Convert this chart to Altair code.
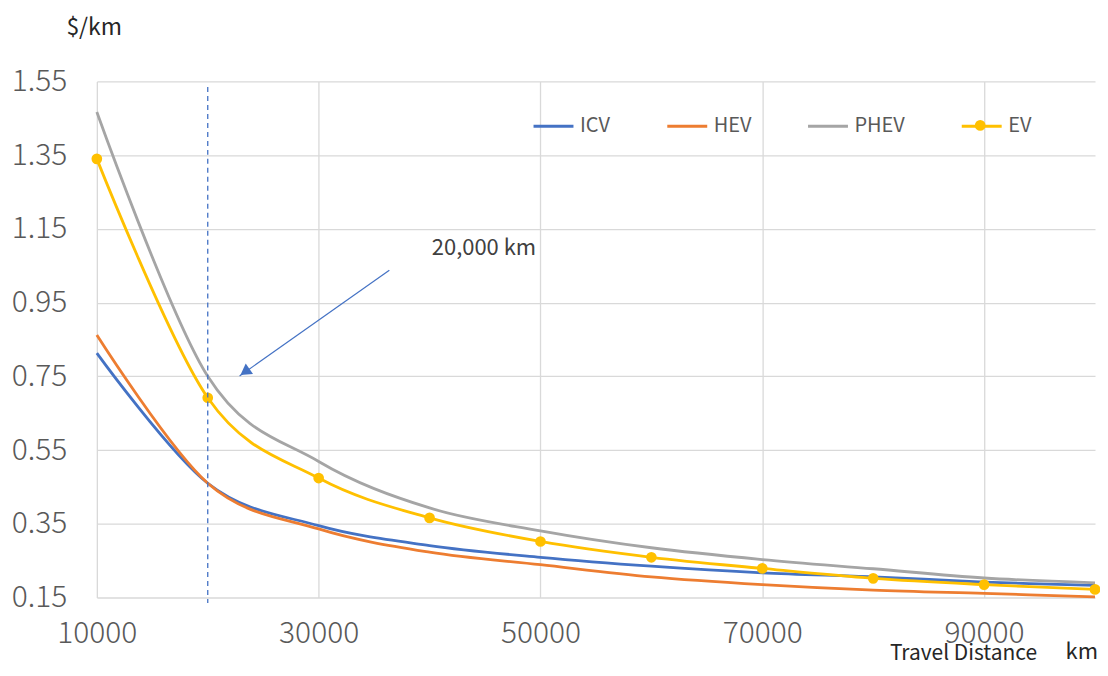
import altair as alt
import pandas as pd

distance = [10000, 20000, 30000, 40000, 50000, 60000, 70000, 80000, 90000, 100000]
icv = [0.813, 0.460, 0.345, 0.291, 0.259, 0.235, 0.217, 0.206, 0.192, 0.183]
hev = [0.862, 0.460, 0.336, 0.273, 0.239, 0.206, 0.185, 0.170, 0.161, 0.152]
phev = [1.467, 0.750, 0.519, 0.393, 0.331, 0.285, 0.253, 0.228, 0.203, 0.190]
ev = [1.340, 0.692, 0.474, 0.366, 0.302, 0.259, 0.229, 0.202, 0.185, 0.172]

series_names = ["ICV", "HEV", "PHEV", "EV"]
series_colors = ["#4472C4", "#ED7D31", "#A5A5A5", "#FFC000"]
y_ticks = [0.15, 0.35, 0.55, 0.75, 0.95, 1.15, 1.35, 1.55]
x_ticks = [10000, 30000, 50000, 70000, 90000]

marker_x = [20000]
arrow_start = [36373, 1.038]
arrow_end = [22871, 0.751]
arrow_head = [23350, 0.762]
note_pos = [40200, 1.098]
note_text = "20,000 km"

FONT = "Noto Sans CJK JP"

rows = []
for name, vals in zip(series_names, [icv, hev, phev, ev]):
    for d, v in zip(distance, vals):
        rows.append({"distance": d, "cost": v, "series": name})
df = pd.DataFrame(rows)
ev_df = df[df.series == "EV"]

xscale = alt.Scale(domain=[10000, 100000], nice=False, zero=False)
yscale = alt.Scale(domain=[0.15, 1.55], nice=False, zero=False)

legend = alt.Legend(
    orient="none", legendX=436, legendY=23, direction="horizontal", title=None,
    symbolType="stroke", symbolSize=1600, symbolStrokeWidth=3,
    labelFont=FONT, labelFontSize=20, labelColor="#595959", labelOffset=5,
    columnPadding=50,
)

lines = alt.Chart(df).mark_line(strokeWidth=2.8, interpolate="cardinal").encode(
    x=alt.X("distance:Q", scale=xscale, axis=alt.Axis(
        values=x_ticks, title="Travel Distance", titleAngle=0, titleX=794, titleY=62,
        titleAlign="left", titleBaseline="alphabetic", titleFont=FONT, titleFontSize=21,
        titleFontWeight="normal", titleColor="#262626",
        labelFont=FONT, labelFontSize=30, labelFontWeight=300, labelColor="#595959",
        labelPadding=21, ticks=False, domain=False, format="d", labelFlush=False)),
    y=alt.Y("cost:Q", scale=yscale, axis=alt.Axis(
        values=y_ticks, title="$/km", titleAngle=0, titleX=-31, titleY=-54,
        titleAlign="left", titleBaseline="middle", titleFont=FONT, titleFontSize=23,
        titleFontWeight="normal", titleColor="#262626",
        labelFont=FONT, labelFontSize=30, labelFontWeight=300, labelColor="#595959",
        labelPadding=30, ticks=False, domain=False, format=".2f", labelFlush=False)),
    color=alt.Color("series:N", scale=alt.Scale(domain=series_names, range=series_colors),
                    sort=series_names, legend=legend),
    order=alt.Order("distance:Q"),
)

points = alt.Chart(ev_df).mark_point(filled=True, size=115, opacity=1).encode(
    x=alt.X("distance:Q", scale=xscale),
    y=alt.Y("cost:Q", scale=yscale),
    color=alt.value("#FFC000"),
)

marker_df = pd.DataFrame({"x": marker_x, "y0": [1.535], "y1": [0.135]})
marker = alt.Chart(marker_df).mark_rule(color="#4472C4", strokeWidth=1.3, strokeDash=[5, 4]).encode(
    x=alt.X("x:Q", scale=xscale), y=alt.Y("y0:Q", scale=yscale), y2="y1:Q")

arrow_df = pd.DataFrame({"x": [arrow_start[0]], "y": [arrow_start[1]],
                         "x2": [arrow_end[0]], "y2": [arrow_end[1]]})
arrow = alt.Chart(arrow_df).mark_rule(color="#4472C4", strokeWidth=1.2).encode(
    x=alt.X("x:Q", scale=xscale), y=alt.Y("y:Q", scale=yscale), x2="x2:Q", y2="y2:Q")

head_df = pd.DataFrame({"x": [arrow_head[0]], "y": [arrow_head[1]]})
head = alt.Chart(head_df).mark_point(shape="triangle-up", filled=True, size=160,
                                     color="#4472C4", opacity=1, angle=234.7).encode(
    x=alt.X("x:Q", scale=xscale), y=alt.Y("y:Q", scale=yscale))

note_df = pd.DataFrame({"x": [note_pos[0]], "y": [note_pos[1]], "t": [note_text]})
note = alt.Chart(note_df).mark_text(align="left", baseline="middle", font=FONT,
                                    fontSize=22, color="#404040").encode(
    x=alt.X("x:Q", scale=xscale), y=alt.Y("y:Q", scale=yscale), text="t:N")

km = alt.Chart(pd.DataFrame({"t": ["km"]})).mark_text(
    align="right", baseline="middle", font=FONT, fontSize=22, color="#262626").encode(
    x=alt.value(1003), y=alt.value(572), text="t:N")

legend_dot = alt.Chart(pd.DataFrame({"t": ["EV"]})).mark_point(
    filled=True, size=115, opacity=1, color="#FFC000").encode(
    x=alt.value(885), y=alt.value(44))

chart = alt.layer(lines, points, marker, arrow, head, note, km, legend_dot).properties(
    width=1000, height=517,
    autosize=alt.AutoSizeParams(type="none"),
    padding={"left": 89, "top": 73, "right": 5, "bottom": 62},
).configure_view(stroke=None).configure_axis(
    gridColor="#D9D9D9", gridWidth=1.3
).configure_axisX(grid=True).configure_axisY(grid=True)

chart.save("out.html", embed_options={"renderer": "svg", "actions": False})
